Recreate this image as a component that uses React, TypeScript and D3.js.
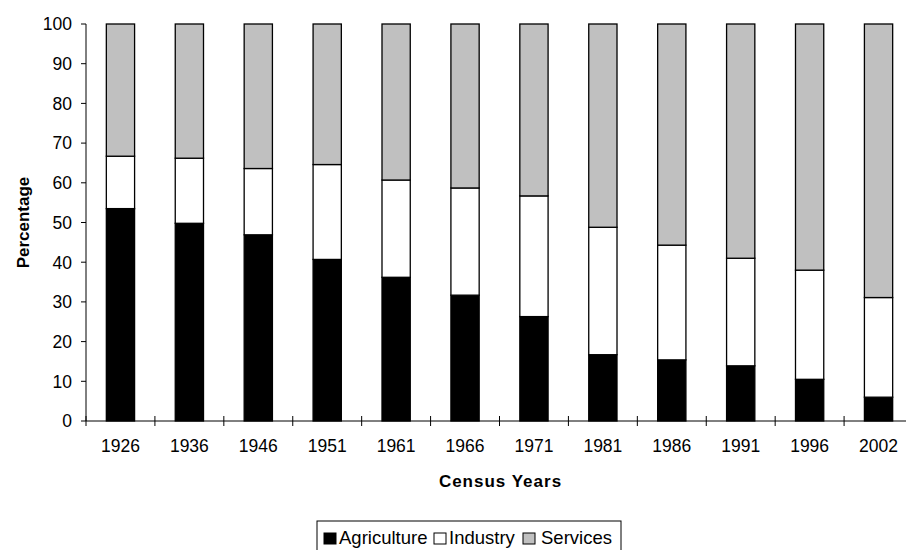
import React from "react";
import * as d3 from "d3";

const years = ["1926", "1936", "1946", "1951", "1961", "1966", "1971", "1981", "1986", "1991", "1996", "2002"];
const agriculture = [53.5, 49.8, 46.9, 40.7, 36.2, 31.7, 26.3, 16.7, 15.4, 13.9, 10.5, 6.0];
const industry = [13.2, 16.4, 16.7, 23.9, 24.5, 27.0, 30.4, 32.1, 28.9, 27.1, 27.5, 25.1];
const services = [33.3, 33.8, 36.4, 35.4, 39.3, 41.3, 43.3, 51.2, 55.7, 59.0, 62.0, 68.9];
const seriesNames = ["Agriculture", "Industry", "Services"];
const seriesColors = ["#000000", "#ffffff", "#c0c0c0"];
const yTicks = [0, 10, 20, 30, 40, 50, 60, 70, 80, 90, 100];

const W = 906;
const H = 550;
const left = 86;
const right = 913;
const top = 24;
const bottom = 421;
const FONT = "'Liberation Sans', Arial, sans-serif";

export default function App() {
  const x = d3.scaleBand<string>().domain(years).range([left, right]).paddingInner(0.59).paddingOuter(0.295);
  const y = d3.scaleLinear().domain([0, 100]).range([bottom, top]);
  const rows = years.map((yr, i) => ({ year: yr, Agriculture: agriculture[i], Industry: industry[i], Services: services[i] }));
  const stack = d3.stack<any>().keys(seriesNames)(rows);
  const step = x.step();
  const boundaries = d3.range(years.length + 1).map((i) => left + i * step);

  const legendItems = [
    { sx: 324, tx: 339 },
    { sx: 434, tx: 449 },
    { sx: 523, tx: 541 },
  ];

  return (
    <svg width={W} height={H} style={{ position: "absolute", left: 0, top: 0, background: "#fff" }} fontFamily={FONT}>
      {stack.map((layer, si) => (
        <g key={seriesNames[si]}>
          {layer.map((d, i) => (
            <rect
              key={years[i]}
              x={x(years[i])}
              y={y(d[1])}
              width={x.bandwidth()}
              height={y(d[0]) - y(d[1])}
              fill={seriesColors[si]}
              stroke="#000"
              strokeWidth={1.3}
            />
          ))}
        </g>
      ))}
      {/* y axis */}
      <line x1={left} x2={left} y1={top} y2={bottom} stroke="#000" strokeWidth={1} />
      {yTicks.map((t) => (
        <g key={t}>
          <line x1={left - 5} x2={left} y1={y(t)} y2={y(t)} stroke="#000" strokeWidth={1} />
          <text x={left - 14} y={y(t)} dy="0.36em" textAnchor="end" fontSize={17.5} fill="#000">
            {t}
          </text>
        </g>
      ))}
      {/* x axis */}
      <line x1={left} x2={right} y1={bottom} y2={bottom} stroke="#000" strokeWidth={1} />
      {boundaries.map((b, i) => (
        <line key={i} x1={b} x2={b} y1={bottom - 5} y2={bottom + 5} stroke="#000" strokeWidth={1} />
      ))}
      {years.map((yr) => (
        <text key={yr} x={(x(yr) as number) + x.bandwidth() / 2} y={452} textAnchor="middle" fontSize={17.5} fill="#000">
          {yr}
        </text>
      ))}
      <text
        transform={`translate(29,${(top + bottom) / 2}) rotate(-90)`}
        textAnchor="middle"
        fontSize={17}
        fontWeight="bold"
        fill="#000"
      >
        Percentage
      </text>
      <text x={(left + right) / 2 + 1} y={487} textAnchor="middle" fontSize={17} fontWeight="bold" letterSpacing={1} fill="#000">
        Census Years
      </text>
      {/* legend */}
      <rect x={317} y={521} width={304} height={40} fill="#fff" stroke="#000" strokeWidth={1} />
      {seriesNames.map((n, i) => (
        <g key={n}>
          <rect x={legendItems[i].sx} y={533} width={12} height={11} fill={seriesColors[i]} stroke="#000" strokeWidth={1} />
          <text x={legendItems[i].tx} y={544} fontSize={18.5} fill="#000">
            {n}
          </text>
        </g>
      ))}
    </svg>
  );
}
